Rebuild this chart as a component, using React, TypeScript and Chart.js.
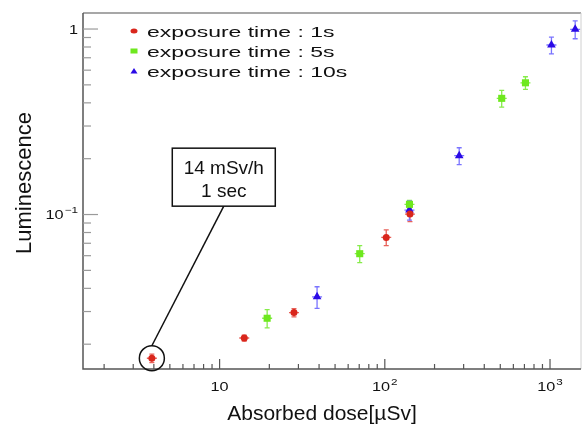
import React, { useEffect, useRef } from "react";
import { Chart, registerables } from "chart.js";

Chart.register(...registerables);

// ---- data ----
const seriesLabels = ["exposure time : 1s", "exposure time : 5s", "exposure time : 10s"];
const dose1s = [3.89, 14.1, 28.2, 102, 142];
const lum1s = [0.0168, 0.0216, 0.0296, 0.0753, 0.1006];
const err1s = [0.0009, 0.0008, 0.0015, 0.0073, 0.009];
const dose5s = [19.4, 70.5, 141, 510, 710];
const lum5s = [0.0276, 0.0615, 0.1135, 0.423, 0.513];
const err5s = [0.0031, 0.0064, 0.0058, 0.044, 0.04];
const dose10s = [38.9, 141, 282, 1020, 1420];
const lum10s = [0.036, 0.1057, 0.2075, 0.82, 0.996];
const err10s = [0.0048, 0.0125, 0.0216, 0.085, 0.11];

const xMajorValues = [10, 100, 1000];
const xMajorLabels = [["10", ""], ["10", "2"], ["10", "3"]];
const yMajorValues = [0.1, 1];
const yMajorLabels = [["10", "\u22121"], ["1", ""]];
const xTitle = "Absorbed dose[\u00B5Sv]";
const yTitle = "Luminescence";
const noteLines = ["14 mSv/h", "1 sec"];
const noteAnchor = { x: 10.6, y: 0.159 };

const xRange = { min: 1.49, max: 1540 };
const yRange = { min: 0.0147, max: 1.22 };

const markerColors = ["#d9261c", "#6ee81e", "#2a0ae6"];
const barColors = ["#e8625a", "#86ec4a", "#7a74ff"];
const pointStyles = ["circle", "rect", "triangle"];
const pointRadii = [3.5, 5, 5];

const FONT = "'Liberation Sans', Arial, Helvetica, sans-serif";

function stretchText(ctx: CanvasRenderingContext2D, text: string, x: number, y: number, sx: number) {
  ctx.save();
  ctx.translate(x, y);
  ctx.scale(sx, 1);
  ctx.textAlign = "left";
  ctx.fillText(text, 0, 0);
  ctx.restore();
}

function drawPowerLabel(
  ctx: CanvasRenderingContext2D,
  base: string,
  exp: string,
  x: number,
  y: number,
  align: "center" | "right",
  sx: number
) {
  ctx.font = `12.5px ${FONT}`;
  const wb = ctx.measureText(base).width * sx;
  ctx.font = `9px ${FONT}`;
  const we = exp ? ctx.measureText(exp).width * sx + 1 : 0;
  const total = wb + we;
  const start = align === "center" ? x - total / 2 : x - total;
  ctx.fillStyle = "#111";
  ctx.font = `12.5px ${FONT}`;
  stretchText(ctx, base, start, y, sx);
  if (exp) {
    ctx.font = `9px ${FONT}`;
    stretchText(ctx, exp, start + wb + 1, y - 6, sx);
  }
}

function logTicks(min: number, max: number) {
  const out: { v: number; major: boolean }[] = [];
  const e0 = Math.floor(Math.log10(min));
  const e1 = Math.ceil(Math.log10(max));
  for (let e = e0; e <= e1; e++) {
    for (let m = 1; m <= 9; m++) {
      const v = m * Math.pow(10, e);
      if (v >= min && v <= max) out.push({ v, major: m === 1 });
    }
  }
  return out;
}

const errorBarPlugin = {
  id: "errorBars",
  beforeDatasetsDraw(chart: any) {
    const ctx = chart.ctx as CanvasRenderingContext2D;
    const ys = chart.scales.y;
    const errs = [err1s, err5s, err10s];
    const vals = [lum1s, lum5s, lum10s];
    chart.data.datasets.forEach((ds: any, di: number) => {
      const meta = chart.getDatasetMeta(di);
      ctx.save();
      ctx.strokeStyle = barColors[di];
      ctx.lineWidth = 1.3;
      meta.data.forEach((pt: any, i: number) => {
        const yTop = ys.getPixelForValue(vals[di][i] + errs[di][i]);
        const yBot = ys.getPixelForValue(vals[di][i] - errs[di][i]);
        ctx.beginPath();
        ctx.moveTo(pt.x, yTop);
        ctx.lineTo(pt.x, yBot);
        ctx.moveTo(pt.x - 2.5, yTop);
        ctx.lineTo(pt.x + 2.5, yTop);
        ctx.moveTo(pt.x - 2.5, yBot);
        ctx.lineTo(pt.x + 2.5, yBot);
        ctx.moveTo(pt.x - 5, pt.y);
        ctx.lineTo(pt.x + 5, pt.y);
        ctx.stroke();
      });
      ctx.restore();
    });
  },
};

const framePlugin = {
  id: "rootFrame",
  afterDraw(chart: any) {
    const ctx = chart.ctx as CanvasRenderingContext2D;
    const { left, right, top, bottom } = chart.chartArea;
    const xs = chart.scales.x;
    const ys = chart.scales.y;
    ctx.save();
    // frame
    ctx.lineWidth = 1.5;
    ctx.strokeStyle = "#8a8a8a";
    ctx.beginPath();
    ctx.moveTo(left, top);
    ctx.lineTo(right, top);
    ctx.stroke();
    ctx.strokeStyle = "#d0d0d0";
    ctx.lineWidth = 1;
    ctx.beginPath();
    ctx.moveTo(right, top);
    ctx.lineTo(right, bottom);
    ctx.stroke();
    ctx.strokeStyle = "#555";
    ctx.lineWidth = 1.5;
    ctx.beginPath();
    ctx.moveTo(left, top);
    ctx.lineTo(left, bottom);
    ctx.lineTo(right, bottom);
    ctx.stroke();

    // x ticks (inward)
    ctx.lineWidth = 1.2;
    ctx.strokeStyle = "#555";
    logTicks(xRange.min, xRange.max).forEach((t) => {
      const px = xs.getPixelForValue(t.v);
      ctx.beginPath();
      ctx.moveTo(px, bottom);
      ctx.lineTo(px, bottom - (t.major ? 10 : 5));
      ctx.stroke();
    });
    // y ticks (inward)
    ctx.strokeStyle = "#9a9a9a";
    logTicks(yRange.min, yRange.max).forEach((t) => {
      const py = ys.getPixelForValue(t.v);
      ctx.beginPath();
      ctx.moveTo(left, py);
      ctx.lineTo(left + (t.major ? 15 : 8), py);
      ctx.stroke();
    });

    // tick labels
    xMajorValues.forEach((v, i) => {
      const px = xs.getPixelForValue(v);
      drawPowerLabel(ctx, xMajorLabels[i][0], xMajorLabels[i][1], px, bottom + 22, "center", 1.3);
    });
    yMajorValues.forEach((v, i) => {
      const py = ys.getPixelForValue(v);
      drawPowerLabel(ctx, yMajorLabels[i][0], yMajorLabels[i][1], left - 5, py + 4.5, "right", 1.3);
    });

    // axis titles
    ctx.fillStyle = "#111";
    ctx.font = `21px ${FONT}`;
    ctx.textAlign = "center";
    ctx.fillText(xTitle, 322, bottom + 51);
    ctx.save();
    ctx.translate(31, 183);
    ctx.rotate(-Math.PI / 2);
    ctx.font = `22px ${FONT}`;
    ctx.fillText(yTitle, 0, 0);
    ctx.restore();

    // legend
    chart.data.datasets.forEach((ds: any, di: number) => {
      const ry = top + 18 + di * 20;
      const mx = left + 51;
      ctx.fillStyle = markerColors[di];
      ctx.strokeStyle = markerColors[di];
      if (di === 0) {
        ctx.beginPath();
        ctx.ellipse(mx, ry, 3.5, 2.5, 0, 0, Math.PI * 2);
        ctx.fill();
      } else if (di === 1) {
        ctx.fillRect(mx - 3.5, ry - 2.5, 7, 5);
      } else {
        ctx.beginPath();
        ctx.moveTo(mx - 3.5, ry + 2.5);
        ctx.lineTo(mx + 3.5, ry + 2.5);
        ctx.lineTo(mx, ry - 3);
        ctx.closePath();
        ctx.fill();
      }
      ctx.fillStyle = "#111";
      ctx.font = `15.5px ${FONT}`;
      stretchText(ctx, ds.label, left + 64, ry + 5.5, 1.48);
    });

    // annotation
    const meta0 = chart.getDatasetMeta(0);
    const p0 = meta0.data[0];
    const r = 12.5;
    const bx = xs.getPixelForValue(noteAnchor.x);
    const by = ys.getPixelForValue(noteAnchor.y);
    const bw = 103;
    const bh = 58;
    ctx.strokeStyle = "#111";
    ctx.lineWidth = 1.5;
    ctx.beginPath();
    ctx.arc(p0.x, p0.y, r, 0, Math.PI * 2);
    ctx.stroke();
    ctx.beginPath();
    ctx.moveTo(bx, by + bh / 2);
    ctx.lineTo(p0.x, p0.y - r);
    ctx.stroke();
    ctx.fillStyle = "#fff";
    ctx.fillRect(bx - bw / 2, by - bh / 2, bw, bh);
    ctx.strokeRect(bx - bw / 2, by - bh / 2, bw, bh);
    ctx.fillStyle = "#111";
    ctx.font = `19px ${FONT}`;
    ctx.textAlign = "center";
    ctx.fillText(noteLines[0], bx, by - 3);
    ctx.fillText(noteLines[1], bx, by + 20);
    ctx.restore();
  },
};

export default function App() {
  const ref = useRef<HTMLCanvasElement | null>(null);
  useEffect(() => {
    if (!ref.current) return;
    const mk = (xs: number[], ys: number[]) => xs.map((x, i) => ({ x, y: ys[i] }));
    const series = [mk(dose1s, lum1s), mk(dose5s, lum5s), mk(dose10s, lum10s)];
    const chart = new Chart(ref.current, {
      type: "scatter",
      data: {
        datasets: series.map((d, i) => ({
          label: seriesLabels[i],
          data: d,
          pointStyle: pointStyles[i] as any,
          radius: pointRadii[i],
          backgroundColor: markerColors[i],
          borderColor: markerColors[i],
          borderWidth: 0,
        })),
      },
      options: {
        responsive: false,
        animation: false,
        devicePixelRatio: 1,
        layout: { padding: { left: 83, right: 1, top: 13, bottom: 58 } },
        plugins: { legend: { display: false }, tooltip: { enabled: false } },
        scales: {
          x: { type: "logarithmic", min: xRange.min, max: xRange.max, display: false },
          y: { type: "logarithmic", min: yRange.min, max: yRange.max, display: false },
        },
      },
      plugins: [errorBarPlugin, framePlugin],
    });
    return () => chart.destroy();
  }, []);
  return (
    <div style={{ position: "fixed", left: 0, top: 0, width: 586, height: 427, background: "#fff" }}>
      <canvas ref={ref} width={586} height={427} style={{ display: "block" }} />
    </div>
  );
}
